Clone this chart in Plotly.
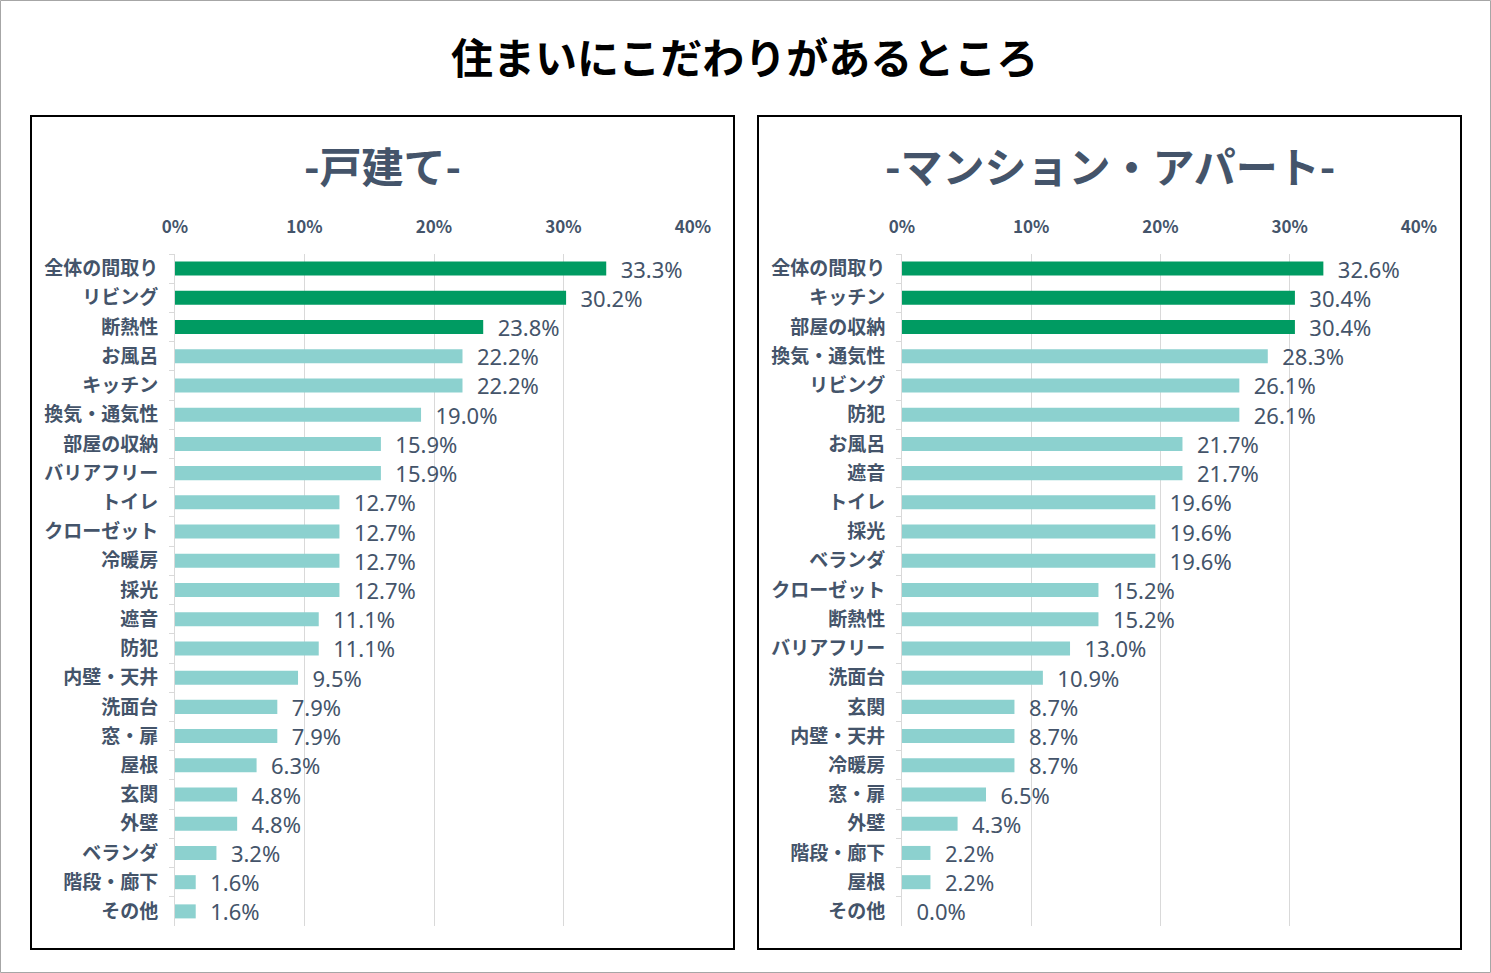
import plotly.graph_objects as go

# 戸建て
house_labels = ['全体の間取り', 'リビング', '断熱性', 'お風呂', 'キッチン', '換気・通気性', '部屋の収納',
                'バリアフリー', 'トイレ', 'クローゼット', '冷暖房', '採光', '遮音', '防犯', '内壁・天井',
                '洗面台', '窓・扉', '屋根', '玄関', '外壁', 'ベランダ', '階段・廊下', 'その他']
house_values = [33.3, 30.2, 23.8, 22.2, 22.2, 19.0, 15.9, 15.9, 12.7, 12.7, 12.7, 12.7, 11.1, 11.1,
                9.5, 7.9, 7.9, 6.3, 4.8, 4.8, 3.2, 1.6, 1.6]

# マンション・アパート
apt_labels = ['全体の間取り', 'キッチン', '部屋の収納', '換気・通気性', 'リビング', '防犯', 'お風呂', '遮音',
              'トイレ', '採光', 'ベランダ', 'クローゼット', '断熱性', 'バリアフリー', '洗面台', '玄関',
              '内壁・天井', '冷暖房', '窓・扉', '外壁', '階段・廊下', '屋根', 'その他']
apt_values = [32.6, 30.4, 30.4, 28.3, 26.1, 26.1, 21.7, 21.7, 19.6, 19.6, 19.6, 15.2, 15.2, 13.0,
              10.9, 8.7, 8.7, 8.7, 6.5, 4.3, 2.2, 2.2, 0.0]

tick_vals = [0, 10, 20, 30, 40]
tick_text = ['0%', '10%', '20%', '30%', '40%']

GREEN = '#009B62'
TEAL = '#8CD1CF'
TEXT = '#44546A'
FONT = 'Noto Sans CJK JP'
W, H = 1491, 973


def colors(n):
    return [GREEN if i < 3 else TEAL for i in range(n)]


fig = go.Figure()
for labels, values, xa, ya in [(house_labels, house_values, 'x', 'y'),
                               (apt_labels, apt_values, 'x2', 'y2')]:
    fig.add_trace(go.Bar(
        x=values, y=labels, orientation='h', xaxis=xa, yaxis=ya,
        marker=dict(color=colors(len(values)), line=dict(width=0)),
        width=0.48,
        text=[f'  {v:.1f}%' for v in values], textposition='outside', constraintext='none',
        textfont=dict(family='Noto Sans', size=22, color=TEXT),
        cliponaxis=False, showlegend=False, hoverinfo='skip',
    ))

axis_x = dict(range=[0, 40], side='top', tickvals=tick_vals, ticktext=tick_text,
              showgrid=True, gridcolor='#D9D9D9', gridwidth=1, zeroline=False,
              showline=False, ticks='', ticklabelstandoff=17, automargin=False,
              tickfont=dict(family=FONT, size=17, color=TEXT, weight='bold'), fixedrange=True)
axis_y = dict(autorange='reversed', showline=True, linecolor='#D9D9D9', linewidth=1,
              ticks='outside', tickson='boundaries', ticklen=5, tickcolor='#D9D9D9',
              ticklabelstandoff=12, showgrid=False, automargin=False,
              tickfont=dict(family=FONT, size=19, color=TEXT, weight='bold'), fixedrange=True)

y_dom = [1 - 926 / H, 1 - 254 / H]
fig.update_layout(
    width=W, height=H, margin=dict(l=0, r=0, t=0, b=0, autoexpand=False),
    paper_bgcolor='white', plot_bgcolor='white',
    bargap=0.52, showlegend=False,
    xaxis=dict(axis_x, domain=[175 / W, 693 / W], anchor='y'),
    yaxis=dict(axis_y, domain=y_dom, anchor='x'),
    xaxis2=dict(axis_x, domain=[902 / W, 1419 / W], anchor='y2'),
    yaxis2=dict(axis_y, domain=y_dom, anchor='x2'),
)

# frames
fig.add_shape(type='rect', xref='paper', yref='paper', x0=0.5 / W, x1=1 - 0.5 / W,
              y0=0.5 / H, y1=1 - 0.5 / H, line=dict(color='#A6A6A6', width=1))
for x0, x1 in [(31, 734), (758, 1461)]:
    fig.add_shape(type='rect', xref='paper', yref='paper', x0=x0 / W, x1=x1 / W,
                  y0=1 - 949 / H, y1=1 - 116 / H, line=dict(color='black', width=2))

fig.add_annotation(text='住まいにこだわりがあるところ', xref='paper', yref='paper',
                   x=744 / W, y=1 - 55 / H, showarrow=False, xanchor='center', yanchor='middle',
                   font=dict(family=FONT, size=42, color='black', weight='bold'))
for txt, cx in [('-戸建て-', 382), ('-マンション・アパート-', 1110)]:
    fig.add_annotation(text=txt, xref='paper', yref='paper', x=cx / W, y=1 - 165 / H,
                       showarrow=False, xanchor='center', yanchor='middle',
                       font=dict(family=FONT, size=42, color=TEXT, weight='bold'))

fig.write_html("out.html", config={'displayModeBar': False},
               post_script="document.body.style.margin='0';")
